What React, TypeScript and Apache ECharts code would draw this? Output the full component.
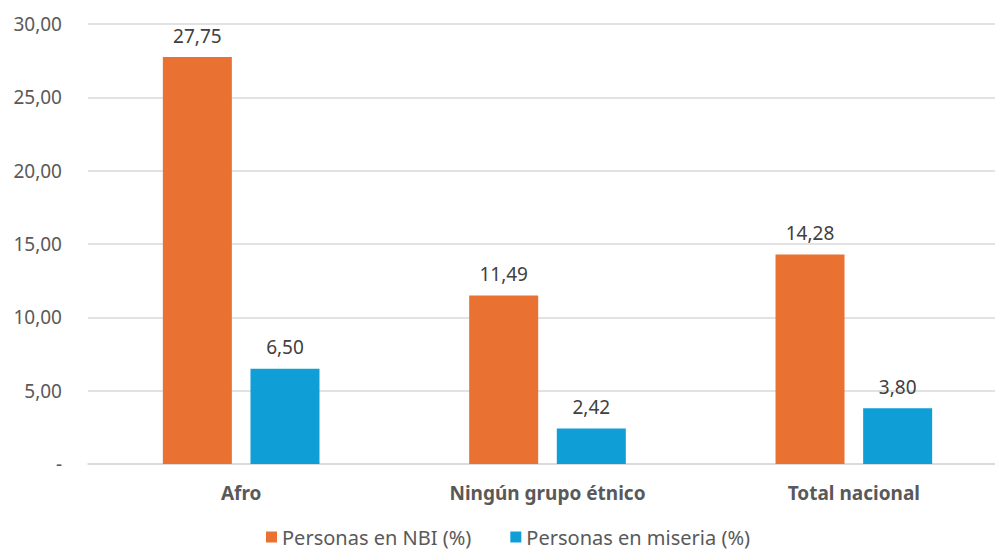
import React, { useEffect, useRef } from "react";
import * as echarts from "echarts";

const categories = ["Afro", "Ningún grupo étnico", "Total nacional"];
const nbiValues = [27.75, 11.49, 14.28];
const miseriaValues = [6.5, 2.42, 3.8];
const seriesNames = ["Personas en NBI (%)", "Personas en miseria (%)"];

const fmt = (v: number) => (v === 0 ? "-" : v.toFixed(2).replace(".", ","));

export default function App() {
  const ref = useRef<HTMLDivElement>(null);
  useEffect(() => {
    if (!ref.current) return;
    const chart = echarts.init(ref.current, undefined, { renderer: "svg" });
    const font = "'Noto Sans', 'Open Sans', sans-serif";
    const labelStyle = {
      show: true,
      position: "top",
      distance: 12,
      fontSize: 19,
      color: "#404040",
      fontFamily: font,
      formatter: (p: any) => fmt(p.value),
    };
    chart.setOption({
      animation: false,
      backgroundColor: "#ffffff",
      textStyle: { fontFamily: font },
      grid: { left: 88, top: 24, width: 919, height: 440, containLabel: false },
      legend: {
        data: seriesNames,
        left: 266,
        top: 526,
        padding: 0,
        icon: "rect",
        itemWidth: 11,
        itemHeight: 11,
        itemGap: 39,
        itemTextGap: 8,
        textStyle: { fontSize: 20, lineHeight: 22, color: "#595959", fontFamily: font },
      },
      xAxis: {
        type: "category",
        data: categories,
        axisLine: { show: true, lineStyle: { color: "#d9d9d9", width: 1.5 } },
        axisTick: { show: false },
        axisLabel: {
          margin: 19,
          fontSize: 19,
          fontWeight: "bold",
          color: "#595959",
          fontFamily: font,
        },
      },
      yAxis: {
        type: "value",
        min: 0,
        max: 30,
        interval: 5,
        axisLine: { show: false },
        axisTick: { show: false },
        splitLine: { lineStyle: { color: "#d9d9d9", width: 1.5 } },
        axisLabel: {
          margin: 26,
          fontSize: 19,
          color: "#595959",
          fontFamily: font,
          formatter: (v: number) => fmt(v),
        },
      },
      series: [
        {
          name: seriesNames[0],
          type: "bar",
          data: nbiValues,
          barWidth: 69,
          barGap: "27%",
          itemStyle: { color: "#e97132" },
          label: labelStyle,
        },
        {
          name: seriesNames[1],
          type: "bar",
          data: miseriaValues,
          barWidth: 69,
          barGap: "27%",
          itemStyle: { color: "#0f9ed5" },
          label: labelStyle,
        },
      ],
    });
    return () => chart.dispose();
  }, []);
  return (
    <div
      style={{
        position: "absolute",
        left: 0,
        top: 0,
        width: 995,
        height: 552,
        overflow: "hidden",
      }}
    >
      <div ref={ref} style={{ width: 1010, height: 552 }} />
    </div>
  );
}
